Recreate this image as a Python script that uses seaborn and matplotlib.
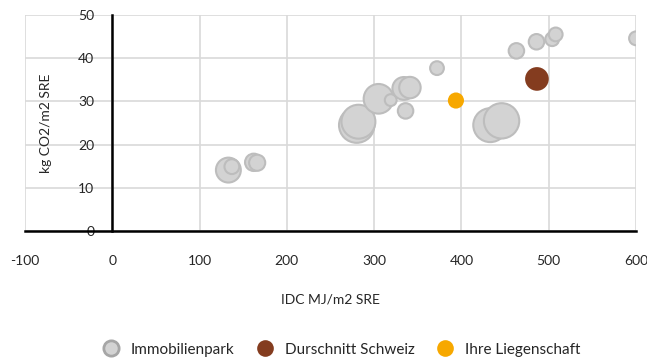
import pandas as pd
import matplotlib.pyplot as plt
import seaborn as sns
from matplotlib.lines import Line2D

# Daten
park_idc = [133, 137, 162, 166, 280, 282, 305, 319, 336, 334, 341, 372, 433, 446, 463, 486, 504, 508, 600]
park_co2 = [14.1, 14.9, 15.9, 15.8, 24.5, 25.3, 30.6, 30.3, 27.8, 33.0, 33.2, 37.7, 24.5, 25.5, 41.7, 43.8, 44.4, 45.5, 44.6]
park_flaeche = [620, 220, 300, 260, 1250, 1150, 880, 140, 240, 520, 460, 190, 1150, 1250, 240, 240, 190, 190, 190]

ch_idc = [486.5]
ch_co2 = [35.2]
ch_flaeche = [560]

ihre_idc = [393.7]
ihre_co2 = [30.2]
ihre_flaeche = [260]

kategorien = ['Immobilienpark', 'Durschnitt Schweiz', 'Ihre Liegenschaft']
farben = {'Immobilienpark': '#d3d3d3', 'Durschnitt Schweiz': '#843c1f', 'Ihre Liegenschaft': '#f7a800'}
kanten = {'Immobilienpark': '#bdbdbd', 'Durschnitt Schweiz': 'none', 'Ihre Liegenschaft': 'none'}

df = pd.DataFrame({
    'IDC': park_idc + ch_idc + ihre_idc,
    'CO2': park_co2 + ch_co2 + ihre_co2,
    'Flaeche': park_flaeche + ch_flaeche + ihre_flaeche,
    'Kategorie': [kategorien[0]] * len(park_idc) + [kategorien[1]] * len(ch_idc) + [kategorien[2]] * len(ihre_idc),
})

sns.set_style('white')
plt.rcParams['font.family'] = ['Lato', 'DejaVu Sans']
plt.rcParams['axes.unicode_minus'] = False

fig = plt.figure(figsize=(6.47, 3.58), dpi=100)
ax = fig.add_axes([25 / 647, 127 / 358, 611 / 647, 216 / 358])

vmin, vmax = df['Flaeche'].min(), df['Flaeche'].max()
k = 0.5184
for kat in kategorien:
    sub = df[df['Kategorie'] == kat]
    sns.scatterplot(data=sub, x='IDC', y='CO2', size='Flaeche', sizes=(vmin * k, vmax * k),
                    size_norm=(vmin, vmax), color=farben[kat], edgecolor=kanten[kat],
                    linewidth=1.5, legend=False, ax=ax, zorder=3)

ax.set_xlim(-100, 600)
ax.set_ylim(0, 50)
ax.set_xticks(range(-100, 601, 100))
ax.set_yticks(range(0, 51, 10))
ax.grid(True, color='#d9d9d9', linewidth=1.2)
ax.set_axisbelow(True)

for s in ['top', 'right']:
    ax.spines[s].set_visible(False)
ax.spines['left'].set_position(('data', 0))
ax.spines['left'].set_color('black')
ax.spines['left'].set_linewidth(1.8)
ax.spines['left'].set_zorder(2)
ax.spines['bottom'].set_color('black')
ax.spines['bottom'].set_linewidth(1.8)
ax.tick_params(axis='both', direction='inout', length=10, width=1.8, color='black', labelsize=10)
ax.tick_params(axis='y', pad=8)
ax.tick_params(axis='x', pad=12)

ax.set_xlabel('IDC MJ/m2 SRE', fontsize=10, labelpad=19)
ax.set_ylabel('kg CO2/m2 SRE', fontsize=10)
ax.yaxis.set_label_coords(0.045, 0.5)

handles = [
    Line2D([], [], marker='o', linestyle='', markersize=11, markerfacecolor='#d3d3d3',
           markeredgecolor='#a6a6a6', markeredgewidth=2),
    Line2D([], [], marker='o', linestyle='', markersize=12, markerfacecolor='#843c1f', markeredgecolor='none'),
    Line2D([], [], marker='o', linestyle='', markersize=12, markerfacecolor='#f7a800', markeredgecolor='none'),
]
fig.legend(handles, kategorien, loc='lower center', bbox_to_anchor=(0.522, -0.035), ncol=3,
           frameon=False, fontsize=11, handletextpad=0.3, columnspacing=1.0)

fig.savefig('out.png', dpi=100)
